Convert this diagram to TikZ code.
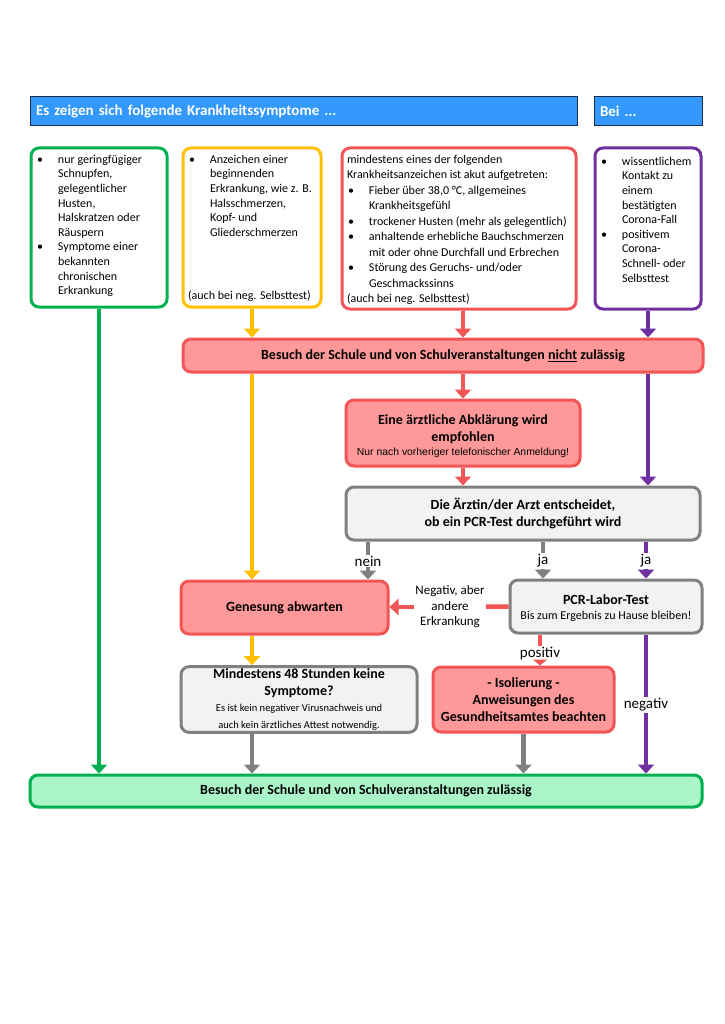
\documentclass[tikz,border=0pt]{standalone}
\usepackage{fontspec}
\setmainfont{Carlito}
\newfontfamily\arialfont{Liberation Sans}
\usetikzlibrary{arrows.meta}
\definecolor{hdrblue}{RGB}{51,153,255}
\definecolor{hdrline}{RGB}{31,42,68}
\definecolor{symgreen}{RGB}{0,176,80}
\definecolor{symyellow}{RGB}{255,192,0}
\definecolor{symred}{RGB}{242,85,85}
\definecolor{symviolet}{RGB}{112,48,160}
\definecolor{boxpink}{RGB}{255,153,153}
\definecolor{boxgray}{RGB}{242,242,242}
\definecolor{linegray}{RGB}{128,128,128}
\definecolor{okgreen}{RGB}{170,245,200}
% bullet with hanging indent
\newcommand{\bitem}[1]{\par\noindent\hangindent=22pt\hangafter=1\makebox[22pt][l]{\hspace{1pt}\textbullet}#1}

\begin{document}
\begin{tikzpicture}[x=1pt, y=-1pt,
  head/.style={draw=hdrline, line width=1pt, fill=hdrblue, text=white, minimum height=29pt, inner ysep=0pt, inner xsep=6pt, align=left, font=\fontsize{15}{17}\selectfont\bfseries},
  sbox/.style={draw=#1, line width=3pt, rounded corners=8pt, fill=white, inner sep=5pt, font=\fontsize{12}{14.6}\selectfont},
  fbox/.style={line width=3pt, rounded corners=8pt, align=center, inner sep=2pt, font=\fontsize{14}{17}\selectfont\bfseries},
  redbox/.style={fbox, draw=symred, fill=boxpink},
  greybox/.style={fbox, draw=linegray, fill=boxgray},
  flow/.style={line width=4.5pt, draw=#1, -{Triangle[width=16pt,length=9pt]}},
  stub/.style={line width=4.5pt, draw=#1},
  lbl/.style={inner sep=1pt, font=\fontsize{15}{17}\selectfont}]
\useasboundingbox (0,0) rectangle (724,1024);

% headers
\node[head, text width=535pt] (head1) at (303.5,111.5) {Es zeigen sich folgende Krankheitssymptome ...};
\node[head, text width=96pt] (head2) at (648,111.5) {Bei ...};

% symptom boxes
\node[sbox=symgreen] (mild) at (99,227.5) {\parbox[c][149pt][t]{126pt}{\vspace*{2pt}%
  \bitem{nur geringfügiger\\Schnupfen,\\gelegentlicher\\Husten,\\Halskratzen oder\\Räuspern}%
  \bitem{Symptome einer\\bekannten\\chronischen\\Erkrankung}}};
\node[sbox=symyellow] (early) at (252,227.5) {\parbox[c][149pt][t]{128pt}{\vspace*{2pt}%
  \bitem{Anzeichen einer\\beginnenden\\Erkrankung, wie z. B.\\Halsschmerzen,\\Kopf- und\\Gliederschmerzen}%
  \par\vfill\noindent(auch bei neg. Selbsttest)}};
\node[sbox=symred] (acute) at (459,228.5) {\parbox[c][151pt][t]{224pt}{\fontsize{12}{15.5}\selectfont\vspace*{2pt}%
  \noindent mindestens eines der folgenden\\Krankheitsanzeichen ist akut aufgetreten:%
  \bitem{Fieber über 38,0 °C, allgemeines\\Krankheitsgefühl}%
  \bitem{trockener Husten (mehr als gelegentlich)}%
  \bitem{anhaltende erhebliche Bauchschmerzen\\mit oder ohne Durchfall und Erbrechen}%
  \bitem{Störung des Geruchs- und/oder\\Geschmackssinns}%
  \par\noindent(auch bei neg. Selbsttest)}};
\node[sbox=symviolet] (contact) at (648,228.5) {\parbox[c][151pt][t]{96pt}{\vspace*{4pt}%
  \bitem{wissentlichem\\Kontakt zu\\einem\\bestätigten\\Corona-Fall}%
  \bitem{positivem\\Corona-\\Schnell- oder\\Selbsttest}}};

% flow boxes
\node[redbox, minimum width=520pt, minimum height=33pt] (nogo) at (443,355.5)
  {Besuch der Schule und von Schulveranstaltungen \underline{nicht} zulässig};
\node[redbox, minimum width=234pt, minimum height=66pt] (advice) at (463,433)
  {\rule{0pt}{17pt}Eine ärztliche Abklärung wird\\empfohlen\\[-3pt]{\normalfont\arialfont\fontsize{10.4}{12}\selectfont Nur nach vorheriger telefonischer Anmeldung!}};
\node[greybox, minimum width=354pt, minimum height=53pt] (doctor) at (523,513.5)
  {Die Ärztin/der Arzt entscheidet,\\ob ein PCR-Test durchgeführt wird};
\node[redbox, minimum width=207pt, minimum height=53pt] (recover) at (284.5,607.5) {Genesung abwarten};
\node[greybox, minimum width=192pt, minimum height=53pt] (pcr) at (606,606.5)
  {\rule{0pt}{14pt}PCR-Labor-Test\\[-2pt]{\normalfont\fontsize{12}{14}\selectfont Bis zum Ergebnis zu Hause bleiben!}};
\node[greybox, minimum width=236pt, minimum height=65pt] (nosym) at (299,699.5)
  {Mindestens 48 Stunden keine\\Symptome?\\[-1pt]{\normalfont\fontsize{10.5}{17}\selectfont Es ist kein negativer Virusnachweis und}\\
   {\normalfont\fontsize{10.5}{17}\selectfont auch kein ärztliches Attest notwendig.}};
\node[redbox, minimum width=181pt, minimum height=65pt] (iso) at (523.5,699.5)
  {- Isolierung -\\Anweisungen des\\Gesundheitsamtes beachten};
\node[fbox, draw=symgreen, fill=okgreen, minimum width=672pt, minimum height=32pt] (final) at (366,791)
  {Besuch der Schule und von Schulveranstaltungen zulässig};

% labels
\node[lbl] (no) at (368,561) {nein};
\node[lbl] (yes) at (543,561) {ja};
\node[lbl] (yesv) at (646,561) {ja};
\node[lbl, align=center, font=\fontsize{13}{15.5}\selectfont] (negother) at (450,607) {Negativ, aber\\andere\\Erkrankung};
\node[lbl] (pos) at (540,654) {positiv};
\node[lbl] (neg) at (646,705) {negativ};

% arrows from the symptoms
\draw[flow=symgreen] (mild.south) -- (mild.south |- final.north);
\draw[flow=symyellow] (early.south) -- (early.south |- nogo.north);
\draw[flow=symred] (acute.south -| advice.north) -- (advice.north |- nogo.north);
\draw[flow=symviolet] (contact.south) -- (contact.south |- nogo.north);
% below nicht zulaessig
\draw[flow=symyellow] (nogo.south -| early.south) -- (early.south |- recover.north);
\draw[flow=symred] (nogo.south -| advice.north) -- (advice.north);
\draw[flow=symred] (advice.south) -- (advice.south |- doctor.north);
\draw[flow=symviolet] (nogo.south -| contact.south) -- (contact.south |- doctor.north);
% decision
\draw[stub=linegray] (doctor.south -| no) -- (no);
\draw[flow=linegray] (no) -- (no |- recover.north);
\draw[stub=linegray] (doctor.south -| yes) -- (yes);
\draw[flow=linegray] (yes) -- (yes |- pcr.north);
\draw[stub=symviolet] (doctor.south -| yesv) -- (yesv);
\draw[flow=symviolet] (yesv) -- (yesv |- pcr.north);
% test result
\draw[stub=symred] (pcr.west) -- (negother);
\draw[flow=symred] (negother) -- (negother -| recover.east);
\draw[stub=symred] (pcr.south -| pos) -- (pos);
\draw[stub=symred, -{Triangle[width=14pt,length=6pt]}] (pos) -- (pos |- iso.north);
\draw[stub=symviolet] (pcr.south -| neg) -- (neg);
\draw[flow=symviolet] (neg) -- (neg |- final.north);
% back to school
\draw[flow=symyellow] (recover.south -| early.south) -- (early.south |- nosym.north);
\draw[flow=linegray] (nosym.south -| early.south) -- (early.south |- final.north);
\draw[flow=linegray] (iso.south) -- (iso.south |- final.north);
\end{tikzpicture}
\end{document}
